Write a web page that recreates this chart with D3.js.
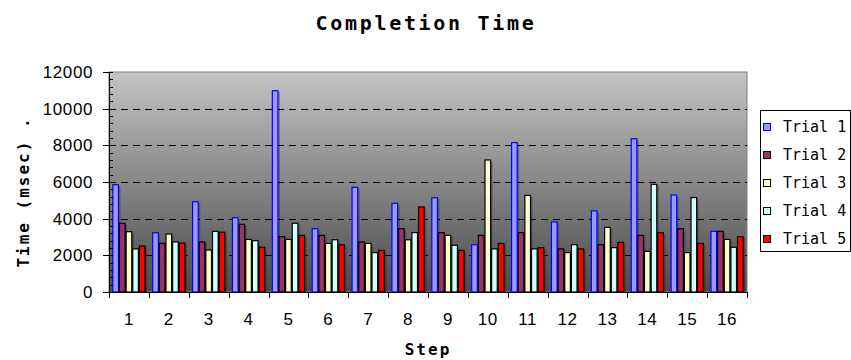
<!DOCTYPE html>
<html>
<head>
<meta charset="utf-8">
<script src="https://cdn.jsdelivr.net/npm/d3@7"></script>
<style>
  html, body { margin: 0; padding: 0; background: #fff; }
  svg { display: block; }
</style>
</head>
<body>
<svg id="chart" width="851" height="360"></svg>
<script>
// Completion time per step, five trials (msec)
const steps = ["1","2","3","4","5","6","7","8","9","10","11","12","13","14","15","16"];
const seriesNames = ["Trial 1","Trial 2","Trial 3","Trial 4","Trial 5"];
const trial1 = [5850, 3230, 4920, 4050, 10980, 3450, 5710, 4840, 5140, 2580, 8150, 3820, 4420, 8360, 5290, 3310];
const trial2 = [3750, 2650, 2730, 3690, 3020, 3090, 2730, 3450, 3240, 3090, 3240, 2350, 2580, 3090, 3450, 3310];
const trial3 = [3290, 3160, 2290, 2870, 2870, 2650, 2650, 2850, 3090, 7200, 5270, 2150, 3530, 2220, 2150, 2870];
const trial4 = [2350, 2730, 3310, 2800, 3750, 2850, 2150, 3240, 2550, 2350, 2350, 2580, 2420, 5870, 5150, 2440];
const trial5 = [2510, 2670, 3260, 2440, 3090, 2570, 2270, 4640, 2270, 2650, 2420, 2350, 2710, 3240, 2650, 3020];
const yTicks = [0, 2000, 4000, 6000, 8000, 10000, 12000];

const allSeries = [trial1, trial2, trial3, trial4, trial5];
const fills   = ["#9999ff", "#993366", "#ffffcc", "#ccffff", "#ff0000"];
const strokes = ["#0000ff", "#000000", "#000000", "#000000", "#000000"];

const svg = d3.select("#chart");
const plot = { left: 109, right: 747, top: 72, bottom: 292 };

const x0 = d3.scaleBand().domain(steps).range([plot.left, plot.right]).paddingInner(0).paddingOuter(0);
const x1 = d3.scaleBand().domain(seriesNames).range([0, x0.bandwidth()]).paddingInner(0).paddingOuter(0.5);
const y = d3.scaleLinear().domain([0, 12000]).range([plot.bottom, plot.top]);

// Plot background: vertical gray gradient
const defs = svg.append("defs");
const grad = defs.append("linearGradient").attr("id", "bg").attr("x1", 0).attr("y1", 0).attr("x2", 0).attr("y2", 1);
grad.append("stop").attr("offset", "0%").attr("stop-color", "#c4c4c4");
grad.append("stop").attr("offset", "100%").attr("stop-color", "#4a4a4a");

svg.append("rect")
  .attr("x", plot.left).attr("y", plot.top)
  .attr("width", plot.right - plot.left).attr("height", plot.bottom - plot.top)
  .attr("fill", "url(#bg)")
  .attr("stroke", "#808080").attr("stroke-width", 1);

// Dashed gridlines
svg.append("g").selectAll("line")
  .data(yTicks.filter(t => t > 0 && t < 12000))
  .join("line")
  .attr("x1", plot.left).attr("x2", plot.right)
  .attr("y1", d => Math.round(y(d)) + 0.5).attr("y2", d => Math.round(y(d)) + 0.5)
  .attr("stroke", "#000").attr("stroke-width", 1)
  .attr("stroke-dasharray", "7,5");

// Bars
const rows = steps.map((s, i) => ({ step: s, values: allSeries.map((arr, k) => ({ k, name: seriesNames[k], v: arr[i] })) }));
const groups = svg.append("g").selectAll("g")
  .data(rows).join("g")
  .attr("transform", d => `translate(${x0(d.step)},0)`);

// soft shadow behind each bar
groups.selectAll("rect.shadow")
  .data(d => d.values).join("rect")
  .attr("class", "shadow")
  .attr("x", d => x1(d.name) + 1.5)
  .attr("y", d => y(d.v) + 1.5)
  .attr("width", x1.bandwidth())
  .attr("height", d => y(0) - y(d.v) - 1.5)
  .attr("fill", "#000").attr("opacity", 0.25);

groups.selectAll("rect.bar")
  .data(d => d.values).join("rect")
  .attr("class", "bar")
  .attr("x", d => x1(d.name) + 0.5)
  .attr("y", d => y(d.v))
  .attr("width", x1.bandwidth() - 1)
  .attr("height", d => y(0) - y(d.v))
  .attr("fill", d => fills[d.k])
  .attr("stroke", d => strokes[d.k]).attr("stroke-width", 1.2);

// Y axis with major ticks outside and minor ticks inside
const yAxisG = svg.append("g");
yAxisG.append("line")
  .attr("x1", plot.left + 0.5).attr("x2", plot.left + 0.5)
  .attr("y1", plot.top).attr("y2", plot.bottom)
  .attr("stroke", "#000");
yAxisG.selectAll("line.major").data(yTicks).join("line")
  .attr("class", "major")
  .attr("x1", plot.left - 6).attr("x2", plot.left)
  .attr("y1", d => Math.round(y(d)) + 0.5).attr("y2", d => Math.round(y(d)) + 0.5)
  .attr("stroke", "#000");
yAxisG.selectAll("line.minor").data(d3.range(0, 12001, 400)).join("line")
  .attr("class", "minor")
  .attr("x1", plot.left).attr("x2", plot.left + 4)
  .attr("y1", d => Math.round(y(d)) + 0.5).attr("y2", d => Math.round(y(d)) + 0.5)
  .attr("stroke", "#000");
yAxisG.selectAll("text").data(yTicks).join("text")
  .attr("x", plot.left - 16).attr("y", d => y(d))
  .attr("dy", "0.36em")
  .attr("text-anchor", "end")
  .attr("font-family", "Liberation Sans, Arial, sans-serif")
  .attr("font-size", 17)
  .attr("letter-spacing", 0.6)
  .attr("fill", "#000")
  .text(d => d);

// X axis with ticks on category boundaries
const xAxisG = svg.append("g");
xAxisG.append("line")
  .attr("x1", plot.left).attr("x2", plot.right)
  .attr("y1", plot.bottom + 0.5).attr("y2", plot.bottom + 0.5)
  .attr("stroke", "#000");
const boundaries = steps.map(s => x0(s)).concat([x0(steps[steps.length - 1]) + x0.bandwidth()]);
xAxisG.selectAll("line.tick").data(boundaries).join("line")
  .attr("class", "tick")
  .attr("x1", d => Math.round(d) + 0.5).attr("x2", d => Math.round(d) + 0.5)
  .attr("y1", plot.bottom).attr("y2", plot.bottom + 6)
  .attr("stroke", "#000");
xAxisG.selectAll("text").data(steps).join("text")
  .attr("x", d => x0(d) + x0.bandwidth() / 2)
  .attr("y", 325)
  .attr("text-anchor", "middle")
  .attr("font-family", "Liberation Sans, Arial, sans-serif")
  .attr("font-size", 17)
  .attr("letter-spacing", 0.6)
  .attr("fill", "#000")
  .text(d => d);

// Titles
const mono = "DejaVu Sans Mono, Liberation Mono, monospace";
svg.append("text")
  .attr("x", 426).attr("y", 30)
  .attr("text-anchor", "middle")
  .attr("font-family", mono).attr("font-weight", "bold")
  .attr("font-size", 20).attr("letter-spacing", 2.7)
  .attr("fill", "#000")
  .text("Completion Time");

svg.append("text")
  .attr("x", 428).attr("y", 355)
  .attr("text-anchor", "middle")
  .attr("font-family", mono).attr("font-weight", "bold")
  .attr("font-size", 16).attr("letter-spacing", 2)
  .attr("fill", "#000")
  .text("Step");

svg.append("text")
  .attr("transform", "translate(29,192) rotate(-90)")
  .attr("text-anchor", "middle")
  .attr("font-family", mono).attr("font-weight", "bold")
  .attr("font-size", 16).attr("letter-spacing", 2)
  .attr("fill", "#000")
  .text("Time (msec) .");

// Legend
const legend = svg.append("g");
legend.append("rect")
  .attr("x", 760.5).attr("y", 110.5).attr("width", 90).attr("height", 141)
  .attr("fill", "#fff").attr("stroke", "#000");
const items = legend.selectAll("g.item").data(seriesNames).join("g")
  .attr("class", "item")
  .attr("transform", (d, i) => `translate(0,${127 + i * 28})`);
items.append("rect")
  .attr("x", 763.5).attr("y", -3.5).attr("width", 7).attr("height", 7)
  .attr("fill", (d, i) => fills[i]).attr("stroke", (d, i) => strokes[i]);
items.append("text")
  .attr("x", 783).attr("y", 0).attr("dy", "0.36em")
  .attr("font-family", mono).attr("font-size", 15)
  .attr("fill", "#000")
  .text(d => d);
</script>
</body>
</html>
